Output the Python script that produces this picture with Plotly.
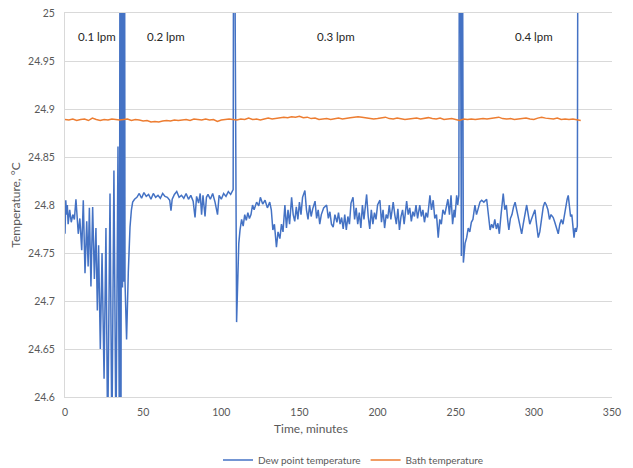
import plotly.graph_objects as go

# ---- Dew point temperature, by flow segment (time in minutes, temperature in °C) ----
dew_t_01 = [0, 0.5, 1, 1.5, 2, 3, 4, 5, 6, 7, 8.5, 9.5, 10.7, 11.7, 12.8, 13.9, 14.8, 15.6, 16.6, 17.7,
            18.8, 19.8, 20.7, 21.5, 22.6, 23.7, 25, 26.2, 27.3, 28.8, 30, 31.3, 32.6, 33.9, 34.8, 35.3,
            35.8, 36.3, 36.8, 37.2, 37.6, 38.0, 38.4, 39.4, 40.5, 41.6, 42.5, 43.3]
dew_v_01 = [24.77, 24.805, 24.79, 24.8, 24.78, 24.795, 24.782, 24.79, 24.785, 24.806, 24.77, 24.786, 24.753,
            24.805, 24.729, 24.783, 24.736, 24.797, 24.715, 24.798, 24.723, 24.776, 24.69, 24.758, 24.65,
            24.75, 24.619, 24.776, 24.55, 24.812, 24.55, 24.836, 24.55, 24.861, 24.55, 25.3, 24.5, 25.3,
            24.714, 25.3, 24.72, 25.3, 24.72, 24.66, 24.73, 24.777, 24.795, 24.803]

dew_t_02 = [44.5, 46, 47.5, 49, 50.5, 52, 53.5, 55, 56.5, 58, 59.5, 61, 62.5, 64, 65.5, 67, 67.8, 68.6, 70,
            71.5, 73, 74.5, 76, 77.5, 79, 80.5, 82, 83.2, 84.2, 85.5, 86.5, 87.4, 88.3, 89.6, 90.5, 91.5,
            93, 94.5, 96, 97.6, 98.6, 100, 101.5, 103, 104.5, 106, 107.6, 108.0, 109.8]
dew_v_02 = [24.806, 24.808, 24.812, 24.807, 24.813, 24.809, 24.811, 24.806, 24.812, 24.808, 24.81, 24.807,
            24.812, 24.809, 24.808, 24.805, 24.794, 24.806, 24.811, 24.814, 24.808, 24.81, 24.807, 24.812,
            24.806, 24.81, 24.804, 24.787, 24.809, 24.802, 24.812, 24.79, 24.81, 24.788, 24.808, 24.811,
            24.806, 24.812, 24.803, 24.79, 24.81, 24.806, 24.812, 24.809, 24.814, 24.811, 24.816, 25.3,
            24.678]

dew_t_03 = [110.5, 111.2, 112, 113, 114, 115, 116, 117, 118, 119,
            120, 121, 122.6, 124, 125, 126.5, 128, 129.5, 131, 132,
            133, 134, 135.3, 136.3, 137.5, 138.5, 139.5, 140.7, 141.7, 142.7,
            143.7, 145, 146, 147, 148, 149, 150, 151, 152, 153.5,
            154.5, 155.5, 156.5, 157.5, 158.5, 160, 161, 162, 163, 164,
            165.5, 167.4, 168.5, 169.5, 170.5, 171.6, 172.7, 174, 175, 176,
            177, 178, 179, 180, 181, 182, 183, 184.3, 185.3, 186.3,
            187.3, 188.3, 189.3, 190.3, 191.3, 192.2, 193, 194, 195, 196,
            197, 198, 199, 200, 201.5, 202.5, 203.5, 204.5, 205.5, 206.5,
            207.5, 208.5, 210, 211, 212, 213, 214, 215, 216, 217,
            218.6, 219.6, 220.6, 221.6, 222.6, 223.6, 224.6, 225.6, 227, 228,
            229, 230, 231, 232, 233.5, 234.5, 235.6, 236.6, 237.7, 238.8,
            239.8, 240.8, 241.8, 243, 244, 245, 246, 247, 248, 249,
            249.5, 250.6, 251.3, 252]
dew_v_03 = [24.72, 24.76, 24.774, 24.785, 24.778, 24.79, 24.784, 24.792, 24.786, 24.79,
            24.8, 24.795, 24.803, 24.799, 24.808, 24.801, 24.805, 24.797, 24.803, 24.795,
            24.774, 24.78, 24.756, 24.772, 24.765, 24.78, 24.772, 24.80, 24.776, 24.795,
            24.78, 24.808, 24.79, 24.783, 24.798, 24.785, 24.803, 24.79, 24.808, 24.815,
            24.795, 24.785, 24.8, 24.788, 24.796, 24.804, 24.786, 24.795, 24.78, 24.79,
            24.797, 24.8, 24.786, 24.793, 24.78, 24.777, 24.79, 24.782, 24.792, 24.78,
            24.787, 24.775, 24.79, 24.774, 24.788, 24.78, 24.802, 24.808, 24.785, 24.797,
            24.78, 24.792, 24.776, 24.8, 24.785, 24.803, 24.811, 24.788, 24.775, 24.795,
            24.78, 24.792, 24.785, 24.8, 24.805, 24.782, 24.795, 24.776, 24.79, 24.786,
            24.8, 24.785, 24.803, 24.79, 24.78, 24.796, 24.774, 24.788, 24.795, 24.78,
            24.804, 24.79, 24.797, 24.783, 24.793, 24.788, 24.8, 24.786, 24.8, 24.788,
            24.795, 24.782, 24.792, 24.787, 24.81, 24.795, 24.805, 24.786, 24.79, 24.766,
            24.785, 24.78, 24.795, 24.79, 24.8, 24.806, 24.79, 24.81, 24.78, 24.795,
            24.787, 24.81, 24.8, 24.81]

dew_t_04 = [252.6, 253.6, 254.0, 254.9, 256, 257, 258, 259, 260, 261,
            262.3, 263.3, 264.5, 265.5, 266.6, 268, 269.8, 271, 272, 273,
            274, 275, 276, 277, 277.9, 279, 280.4, 281.4, 282.4, 283.2,
            284, 285, 286, 287, 288, 289, 290, 291, 292.2, 293.2,
            294.2, 295.4, 296.4, 297.4, 298.4, 299.5, 300.7, 301.7, 302.8, 303.8,
            305, 306, 307, 308, 309, 310, 311, 312.4, 313.4, 314.5,
            315.6, 316.6, 317.6, 318.6, 319.6, 320.5, 321.3, 322, 322.8, 323.5,
            324.3, 325, 325.7, 326.4, 327.1, 327.8, 328.4]
dew_v_04 = [25.3, 24.747, 25.3, 24.74, 24.76, 24.766, 24.776, 24.772, 24.782, 24.785,
            24.80, 24.79, 24.797, 24.803, 24.805, 24.803, 24.806, 24.79, 24.774, 24.78,
            24.776, 24.785, 24.775, 24.781, 24.77, 24.79, 24.812, 24.795, 24.8, 24.785,
            24.774, 24.786, 24.79, 24.798, 24.803, 24.795, 24.788, 24.78, 24.77, 24.78,
            24.79, 24.80, 24.79, 24.78, 24.785, 24.79, 24.795, 24.78, 24.766, 24.772,
            24.79, 24.798, 24.803, 24.8, 24.795, 24.785, 24.79, 24.787, 24.782, 24.775,
            24.77, 24.78, 24.785, 24.78, 24.79, 24.80, 24.806, 24.81, 24.795, 24.788,
            24.79, 24.775, 24.766, 24.776, 24.772, 24.778, 25.3]

# ---- Bath temperature, sampled every 2.5 minutes from 0 to 330 ----
bath_step = 2.5
bath_v = [24.889, 24.8885, 24.8895, 24.888, 24.889, 24.8895, 24.888, 24.8905, 24.889, 24.888, 24.889, 24.8885, 24.8895, 24.889, 24.8885,
          24.889, 24.8895, 24.888, 24.889, 24.8885, 24.8875, 24.888, 24.8865, 24.887, 24.8865, 24.8875, 24.888, 24.8875, 24.8885, 24.888,
          24.8885, 24.889, 24.888, 24.8895, 24.889, 24.8885, 24.8895, 24.8885, 24.889, 24.887, 24.8885, 24.889, 24.8895, 24.889, 24.8885,
          24.8895, 24.889, 24.8905, 24.889, 24.8895, 24.8885, 24.8895, 24.8905, 24.8895, 24.890, 24.8905, 24.8915, 24.891, 24.892, 24.8915,
          24.8925, 24.891, 24.8915, 24.890, 24.8905, 24.889, 24.8895, 24.890, 24.889, 24.8895, 24.8905, 24.8895, 24.8905, 24.891, 24.8915,
          24.892, 24.8915, 24.891, 24.8905, 24.8895, 24.890, 24.8905, 24.8915, 24.890, 24.8895, 24.8905, 24.890, 24.889, 24.8895, 24.890,
          24.8905, 24.8895, 24.8905, 24.891, 24.890, 24.8895, 24.8905, 24.889, 24.8895, 24.890, 24.889, 24.888, 24.8895, 24.889, 24.8895,
          24.889, 24.8895, 24.890, 24.8895, 24.890, 24.891, 24.8915, 24.890, 24.8895, 24.890, 24.889, 24.8895, 24.890, 24.8905, 24.8895,
          24.889, 24.8905, 24.8915, 24.8905, 24.890, 24.8895, 24.8905, 24.889, 24.8895, 24.889, 24.8895, 24.8885, 24.888]
bath_t = [i * bath_step for i in range(len(bath_v))]

# ---- Annotations and ticks ----
flow_labels = ["0.1 lpm", "0.2 lpm", "0.3 lpm", "0.4 lpm"]
flow_label_t = [20.5, 64.5, 173.5, 300]
flow_label_y = 24.976
y_ticks = [24.6, 24.65, 24.7, 24.75, 24.8, 24.85, 24.9, 24.95, 25]
y_tick_text = ["24.6", "24.65", "24.7", "24.75", "24.8", "24.85", "24.9", "24.95", "25"]
x_ticks = [0, 50, 100, 150, 200, 250, 300, 350]
x_title = "Time, minutes"
y_title = "Temperature, °C"

dew_t = dew_t_01 + dew_t_02 + dew_t_03 + dew_t_04
dew_v = dew_v_01 + dew_v_02 + dew_v_03 + dew_v_04

FONT = "Lato"
GRAY = "#595959"
W, H = 625, 460  # page body has an 8px default margin

fig = go.Figure()
fig.add_trace(go.Scatter(x=dew_t, y=dew_v, mode="lines", name="Dew point temperature",
                         line=dict(color="#4472C4", width=1.5)))
fig.add_trace(go.Scatter(x=bath_t, y=bath_v, mode="lines", name="Bath temperature",
                         line=dict(color="#ED7D31", width=1.5)))

for lbl, t in zip(flow_labels, flow_label_t):
    fig.add_annotation(x=t, y=flow_label_y, text=lbl, showarrow=False,
                       font=dict(family=FONT, size=11.5, color="#262626"))

# x-axis title placed as a text annotation below the tick labels
fig.add_annotation(x=0.45, xref="paper", y=-0.081, yref="paper", yanchor="middle",
                   text=x_title, showarrow=False,
                   font=dict(family=FONT, size=12, color=GRAY))

fig.update_layout(
    width=W, height=H,
    margin=dict(l=57, r=21, t=5, b=71),
    paper_bgcolor="white", plot_bgcolor="white",
    font=dict(family=FONT, size=10, color=GRAY),
    showlegend=True,
    legend=dict(orientation="h", x=210 / W, xref="container", xanchor="left",
                y=1 - 452 / H, yref="container", yanchor="middle",
                font=dict(family=FONT, size=10, color=GRAY), bgcolor="rgba(0,0,0,0)"),
    xaxis=dict(range=[0, 350], tickvals=x_ticks, showgrid=False, zeroline=False,
               showline=True, mirror=True, linecolor="#d9d9d9", linewidth=1, ticks="",
               ticklabelstandoff=5, automargin=False, ticklabeloverflow="allow",
               tickfont=dict(family=FONT, size=10.5, color=GRAY)),
    yaxis=dict(range=[24.6, 25], tickvals=y_ticks, ticktext=y_tick_text, showgrid=True,
               gridcolor="#d9d9d9", gridwidth=1, zeroline=False,
               showline=True, linecolor="#d9d9d9", linewidth=1, ticks="",
               ticklabelstandoff=7, automargin=False, ticklabeloverflow="allow",
               tickfont=dict(family=FONT, size=10.5, color=GRAY),
               title=dict(text=y_title, font=dict(family=FONT, size=12, color=GRAY), standoff=8)),
)

fig.write_html("out.html")
